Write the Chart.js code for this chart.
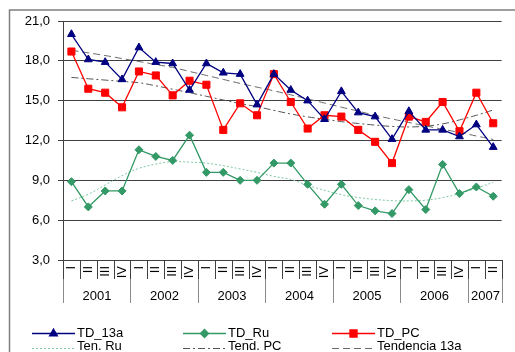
<!DOCTYPE html>
<html>
<head>
<meta charset="utf-8">
<script src="https://cdn.jsdelivr.net/npm/chart.js@4.4.1/dist/chart.umd.min.js"></script>
<style>
  html, body { margin: 0; padding: 0; background: #fff; }
  #wrap { width: 515px; height: 352px; }
</style>
</head>
<body>
<div id="wrap"><canvas id="chart" width="515" height="352"></canvas></div>
<script>
// quarters 2001-I .. 2007-II
const quarterLabels = [
  'I', 'II', 'III', 'IV', 'I', 'II', 'III', 'IV', 'I', 'II', 'III', 'IV',
  'I', 'II', 'III', 'IV', 'I', 'II', 'III', 'IV', 'I', 'II', 'III', 'IV',
  'I', 'II'
];
const years = ['2001', '2002', '2003', '2004', '2005', '2006', '2007'];
const quartersPerYear = [4, 4, 4, 4, 4, 4, 2];
const yTicks = [3, 6, 9, 12, 15, 18, 21];

const td13a = [20.0, 18.1, 17.9, 16.6, 19.0, 17.9, 17.8, 15.8, 17.8, 17.1, 17.0, 14.7, 17.0,
  15.8, 15.0, 13.6, 15.7, 14.1, 13.8, 12.1, 14.2, 12.8, 12.8, 12.3, 13.2, 11.5];
const tdRu = [8.9, 7.0, 8.2, 8.2, 11.3, 10.8, 10.5, 12.4, 9.6, 9.6, 9.0, 9.0, 10.3,
  10.3, 8.7, 7.2, 8.7, 7.1, 6.7, 6.5, 8.3, 6.8, 10.2, 8.0, 8.5, 7.8];
const tdPC = [18.7, 15.9, 15.6, 14.5, 17.2, 16.9, 15.4, 16.5, 16.2, 12.8, 14.8, 13.9, 17.0,
  14.9, 12.9, 13.9, 13.8, 12.8, 11.9, 10.3, 13.8, 13.4, 14.9, 12.7, 15.6, 13.3];

// trend curves
const tenRu = [7.45, 7.95, 8.65, 9.35, 9.9, 10.22, 10.4, 10.37, 10.3, 10.1, 9.86, 9.6, 9.3,
  9.07, 8.62, 8.25, 7.92, 7.7, 7.56, 7.47, 7.45, 7.5, 7.7, 8.0, 8.4, 8.85];
const tendPC = [16.75, 16.65, 16.55, 16.45, 16.35, 16.12, 15.86, 15.6, 15.33, 15.05, 14.78, 14.55, 14.27,
  14.0, 13.78, 13.6, 13.42, 13.28, 13.16, 13.06, 13.02, 13.08, 13.25, 13.55, 13.9, 14.3];
const tend13a = [18.8, 18.6, 18.4, 18.17, 17.95, 17.72, 17.5, 17.2, 16.9, 16.6, 16.3, 16.02, 15.74,
  15.44, 15.13, 14.82, 14.51, 14.21, 13.9, 13.62, 13.36, 13.1, 12.85, 12.6, 12.34, 12.08];

const FONT = '"Liberation Sans", Arial, sans-serif';

// outer frame of the chart object
const framePlugin = {
  id: 'frame',
  beforeDraw(chart) {
    const ctx = chart.ctx;
    ctx.save();
    ctx.fillStyle = '#fff';
    ctx.fillRect(0, 0, chart.width, chart.height);
    ctx.strokeStyle = '#7f7f7f';
    ctx.lineWidth = 1.5;
    ctx.strokeRect(9.5, 10, chart.width + 20, chart.height + 20);
    ctx.restore();
  }
};

// separators between quarters and years, plus the year row
const yearAxisPlugin = {
  id: 'yearAxis',
  afterDraw(chart) {
    const x = chart.scales.x;
    const ctx = chart.ctx;
    const top = chart.chartArea.bottom;
    const edge = i => Math.round(x.getPixelForValue(i - 0.5)) + 0.5;
    ctx.save();
    ctx.lineWidth = 1;
    ctx.strokeStyle = '#404040';
    for (let i = 0; i <= quarterLabels.length; i++) {
      ctx.beginPath();
      ctx.moveTo(edge(i), top);
      ctx.lineTo(edge(i), top + 19);
      ctx.stroke();
    }
    ctx.strokeStyle = '#8a8a8a';
    ctx.fillStyle = '#000';
    ctx.font = '13px ' + FONT;
    ctx.textAlign = 'center';
    ctx.textBaseline = 'middle';
    let start = 0;
    years.forEach((yr, k) => {
      const n = quartersPerYear[k];
      const x0 = edge(start), x1 = edge(start + n);
      [x0, x1].forEach(px => {
        ctx.beginPath();
        ctx.moveTo(px, top + 19);
        ctx.lineTo(px, top + 43);
        ctx.stroke();
      });
      ctx.fillText(yr, (x0 + x1) / 2, top + 36);
      start += n;
    });
    ctx.restore();
  }
};

// legend in three columns under the axis
const legendPlugin = {
  id: 'gridLegend',
  afterDraw(chart) {
    const ctx = chart.ctx;
    const cols = [32, 183, 332];
    const lineY = [333, 348];
    const textY = [333, 346];
    ctx.save();
    chart.data.datasets.forEach((ds, k) => {
      const col = k % 3, row = Math.floor(k / 3);
      const x0 = cols[col], x1 = x0 + 43, y = lineY[row];
      ctx.strokeStyle = ds.borderColor;
      ctx.lineWidth = ds.borderWidth;
      ctx.setLineDash(ds.borderDash || []);
      ctx.beginPath();
      ctx.moveTo(x0, y + 0.5);
      ctx.lineTo(x1, y + 0.5);
      ctx.stroke();
      ctx.setLineDash([]);
      if (ds.pointRadius > 0) {
        ctx.fillStyle = ds.pointBackgroundColor;
        ctx.strokeStyle = ds.pointBorderColor;
        Chart.helpers.drawPoint(ctx, {
          pointStyle: ds.pointStyle, radius: ds.pointRadius, rotation: 0, borderWidth: 1
        }, (x0 + x1) / 2, y + 0.5);
      }
      ctx.fillStyle = '#000';
      ctx.font = '13px ' + FONT;
      ctx.textAlign = 'left';
      ctx.textBaseline = 'middle';
      ctx.fillText(ds.label, x1 + 2, textY[row]);
    });
    ctx.restore();
  }
};

function series(label, data, color, style, radius) {
  return {
    label, data,
    borderColor: color, borderWidth: 1.3,
    pointStyle: style, pointRadius: radius, pointHoverRadius: radius,
    pointBackgroundColor: color, pointBorderColor: color, pointBorderWidth: 1,
    tension: 0
  };
}

function trend(label, data, color, dash) {
  return {
    label, data,
    borderColor: color, borderWidth: 1, borderDash: dash,
    pointRadius: 0, tension: 0.4
  };
}

new Chart(document.getElementById('chart'), {
  type: 'line',
  data: {
    labels: quarterLabels,
    datasets: [
      series('TD_13a', td13a, '#000080', 'triangle', 4.5),
      series('TD_Ru', tdRu, '#339966', 'rectRot', 4),
      series('TD_PC', tdPC, '#ff0000', 'rect', 5),
      trend('Ten. Ru', tenRu, '#7fcaa3', [2, 2]),
      trend('Tend. PC', tendPC, '#555555', [7, 3, 2, 3]),
      trend('Tendencia 13a', tend13a, '#6a6a6a', [7, 4])
    ]
  },
  options: {
    responsive: false,
    animation: false,
    devicePixelRatio: 1,
    layout: { padding: { top: 21, right: 9, left: 0, bottom: 0 } },
    plugins: { legend: { display: false }, tooltip: { enabled: false } },
    scales: {
      x: {
        offset: true,
        grid: { display: false, drawTicks: false },
        border: { display: true, color: '#404040' },
        ticks: {
          autoSkip: false, minRotation: 90, maxRotation: 90, padding: 6,
          color: '#000', font: { size: 13, family: FONT }
        },
        afterFit(s) { s.height = 92; }
      },
      y: {
        min: 3, max: 21,
        afterBuildTicks(s) { s.ticks = yTicks.map(v => ({ value: v })); },
        grid: { color: '#404040', tickLength: 5 },
        border: { color: '#404040' },
        ticks: {
          padding: 8, color: '#000', font: { size: 13, family: FONT },
          callback: v => v.toFixed(1).replace('.', ',')
        },
        afterFit(s) { s.width = 63; }
      }
    }
  },
  plugins: [framePlugin, yearAxisPlugin, legendPlugin]
});
</script>
</body>
</html>
